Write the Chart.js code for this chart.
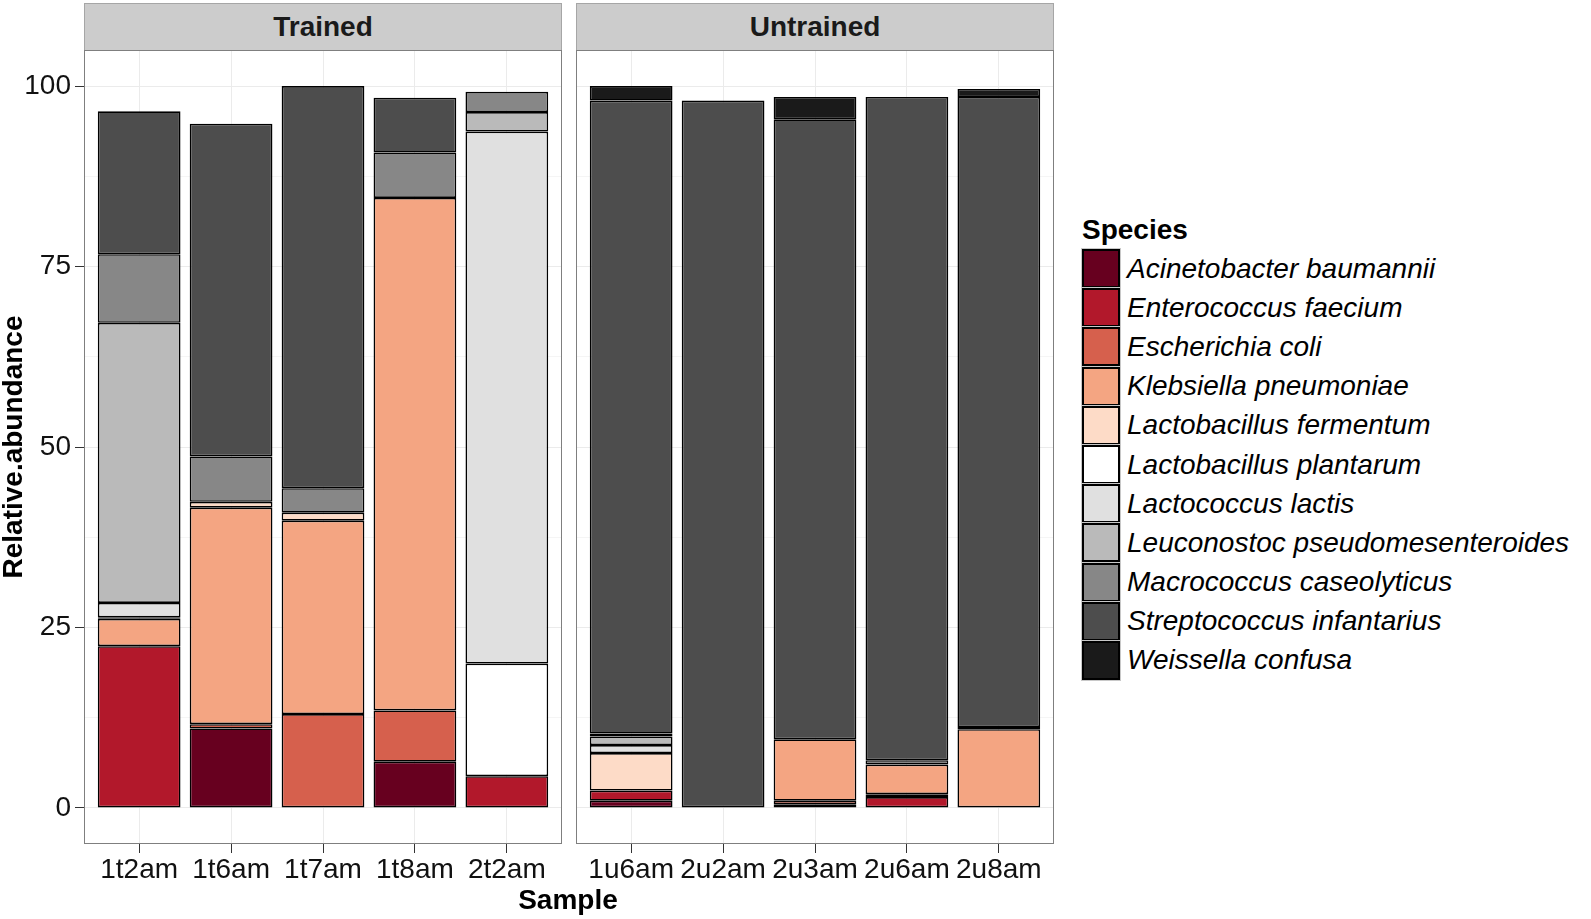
<!DOCTYPE html>
<html>
<head>
<meta charset="utf-8">
<script src="https://cdn.jsdelivr.net/npm/chart.js@4/dist/chart.umd.min.js"></script>
<style>
  body { margin: 0; background: #fff; font-family: "Liberation Sans", Arial, sans-serif; }
  #page { position: relative; width: 1591px; height: 919px; overflow: hidden; }
  canvas { position: absolute; }
  .strip { position: absolute; top: 3px; height: 46px; width: 476px; background: #cccccc;
           border: 1px solid #a6a6a6; color: #1a1a1a; font-weight: bold; font-size: 28px;
           line-height: 46px; text-align: center; }
  #xtitle { position: absolute; left: 468px; width: 200px; top: 884px; text-align: center;
            font-weight: bold; font-size: 28px; line-height: 32px; color: #000; }
  #legend { position: absolute; left: 1082px; top: 213px; }
  #legend .title { font-weight: bold; font-size: 28px; line-height: 34px; margin-bottom: 2px; }
  #legend .row { display: flex; align-items: center; height: 39.2px; }
  #legend .key { width: 34px; height: 35px; border: 2px solid #000; outline: 1px solid #c8c8c8;
                 box-sizing: content-box; margin-right: 7px; }
  #legend .lab { font-style: italic; font-size: 28px; color: #000; white-space: nowrap; }
</style>
</head>
<body>
<div id="page">
  <div class="strip" style="left:84px">Trained</div>
  <div class="strip" style="left:576px">Untrained</div>
  <canvas id="trained" width="562" height="850" style="left:0;top:50px"></canvas>
  <canvas id="untrained" width="478" height="850" style="left:576px;top:50px"></canvas>
  <div id="xtitle">Sample</div>
  <div id="legend"><div class="title">Species</div></div>
</div>
<script>
// samples in each facet
var trainedSamples = ['1t2am', '1t6am', '1t7am', '1t8am', '2t2am'];
var untrainedSamples = ['1u6am', '2u2am', '2u3am', '2u6am', '2u8am'];

var species = [
  'Acinetobacter baumannii',
  'Enterococcus faecium',
  'Escherichia coli',
  'Klebsiella pneumoniae',
  'Lactobacillus fermentum',
  'Lactobacillus plantarum',
  'Lactococcus lactis',
  'Leuconostoc pseudomesenteroides',
  'Macrococcus caseolyticus',
  'Streptococcus infantarius',
  'Weissella confusa'
];
var speciesColors = ['#67001f', '#b2182b', '#d6604d', '#f4a582', '#fddbc7', '#ffffff',
                     '#e0e0e0', '#bababa', '#878787', '#4d4d4d', '#1a1a1a'];

// relative abundance, trained samples first then untrained
var acinetobacter = [0, 11.0, 0, 6.4, 0,      1.0, 0, 0.5, 0, 0];
var enterococcus  = [22.4, 0, 0, 0, 4.4,      1.4, 0, 0, 1.5, 0];
var escherichia   = [0, 0.6, 13.0, 7.1, 0,    0, 0, 0.5, 0.4, 0];
var klebsiella    = [3.8, 30.0, 26.8, 71.0, 0, 0, 0, 8.5, 4.1, 10.9];
var fermentum     = [0.2, 0.8, 1.1, 0, 0,     5.2, 0, 0, 0, 0.3];
var plantarum     = [0, 0, 0, 0, 15.6,        0, 0, 0, 0, 0];
var lactococcus   = [2.0, 0, 0, 0, 73.7,      1.1, 0, 0, 0, 0];
var leuconostoc   = [38.8, 0, 0, 0, 2.7,      1.2, 0, 0, 0, 0];
var macrococcus   = [9.5, 6.3, 3.4, 6.3, 2.8, 0.4, 0, 0, 0.6, 0];
var streptococcus = [19.8, 46.1, 55.7, 7.6, 0, 87.7, 98.0, 85.9, 91.9, 87.3];
var weissella     = [0, 0, 0, 0, 0,           2.0, 0, 3.1, 0, 1.1];

var seriesValues = [acinetobacter, enterococcus, escherichia, klebsiella, fermentum, plantarum,
                    lactococcus, leuconostoc, macrococcus, streptococcus, weissella];

var yTicks = [0, 25, 50, 75, 100];
var yMinor = [12.5, 37.5, 62.5, 87.5];

var font = "'Liberation Sans', Arial, sans-serif";

// draws the grey frame round each facet panel
var panelBorder = {
  id: 'panelBorder',
  afterDraw: function (chart) {
    var a = chart.chartArea, ctx = chart.ctx;
    ctx.save();
    ctx.strokeStyle = '#7f7f7f';
    ctx.lineWidth = 1;
    ctx.strokeRect(a.left + 0.5, a.top + 0.5, a.width - 1, a.height - 1);
    ctx.restore();
  }
};

function makePanel(id, samples, offset, showY) {
  var datasets = species.map(function (name, s) {
    return {
      label: name,
      data: samples.map(function (smp, i) {
        var v = seriesValues[s][offset + i];
        return { x: i + 1, y: v > 0 ? v : null };
      }),
      backgroundColor: speciesColors[s],
      borderColor: '#000',
      borderWidth: 1.6,
      borderSkipped: false,
      categoryPercentage: 1,
      barPercentage: 0.9
    };
  });

  return new Chart(document.getElementById(id), {
    type: 'bar',
    data: { datasets: datasets },
    plugins: [panelBorder],
    options: {
      responsive: false,
      devicePixelRatio: 1,
      animation: false,
      layout: { padding: 0 },
      plugins: { legend: { display: false }, tooltip: { enabled: false } },
      scales: {
        x: {
          type: 'linear',
          stacked: true,
          offset: false,
          min: 0.4,
          max: samples.length + 0.6,
          afterBuildTicks: function (scale) {
            scale.ticks = samples.map(function (s, i) { return { value: i + 1 }; });
          },
          afterFit: function (scale) {
            scale.height = 56;
            scale.paddingLeft = 0;
            scale.paddingRight = 0;
          },
          border: { display: false },
          grid: { offset: false, color: '#ebebeb', tickColor: '#333', tickLength: 9, tickWidth: 1 },
          ticks: {
            autoSkip: false, maxRotation: 0, padding: 3, color: '#111',
            font: { family: font, size: 28, lineHeight: 1 },
            callback: function (v) { return samples[v - 1]; }
          }
        },
        y: {
          stacked: true,
          min: -5,
          max: 105,
          afterBuildTicks: function (scale) {
            scale.ticks = yMinor.concat(yTicks).sort(function (a, b) { return a - b; })
              .map(function (v) { return { value: v }; });
          },
          afterFit: function (scale) {
            scale.width = showY ? 84 : 0;
            scale.paddingTop = 0;
            scale.paddingBottom = 0;
          },
          border: { display: false },
          grid: {
            drawTicks: showY,
            tickLength: 9,
            color: function (c) { return yTicks.indexOf(c.tick.value) >= 0 ? '#ebebeb' : '#f5f5f5'; },
            tickColor: function (c) { return yTicks.indexOf(c.tick.value) >= 0 ? '#333' : 'rgba(0,0,0,0)'; }
          },
          ticks: {
            display: showY, padding: 4, color: '#111',
            font: { family: font, size: 28, lineHeight: 1 },
            callback: function (v) { return yTicks.indexOf(v) >= 0 ? String(v) : ''; }
          },
          title: {
            display: showY, text: 'Relative.abundance', color: '#000',
            padding: { top: 0, bottom: 0 },
            font: { family: font, size: 28, weight: 'bold', lineHeight: 1 }
          }
        }
      }
    }
  });
}

makePanel('trained', trainedSamples, 0, true);
makePanel('untrained', untrainedSamples, trainedSamples.length, false);

// legend built from the same species/colour arrays
var legend = document.getElementById('legend');
species.forEach(function (name, s) {
  var row = document.createElement('div');
  row.className = 'row';
  row.innerHTML = '<div class="key" style="background:' + speciesColors[s] + '"></div>' +
                  '<span class="lab">' + name + '</span>';
  legend.appendChild(row);
});
</script>
</body>
</html>
